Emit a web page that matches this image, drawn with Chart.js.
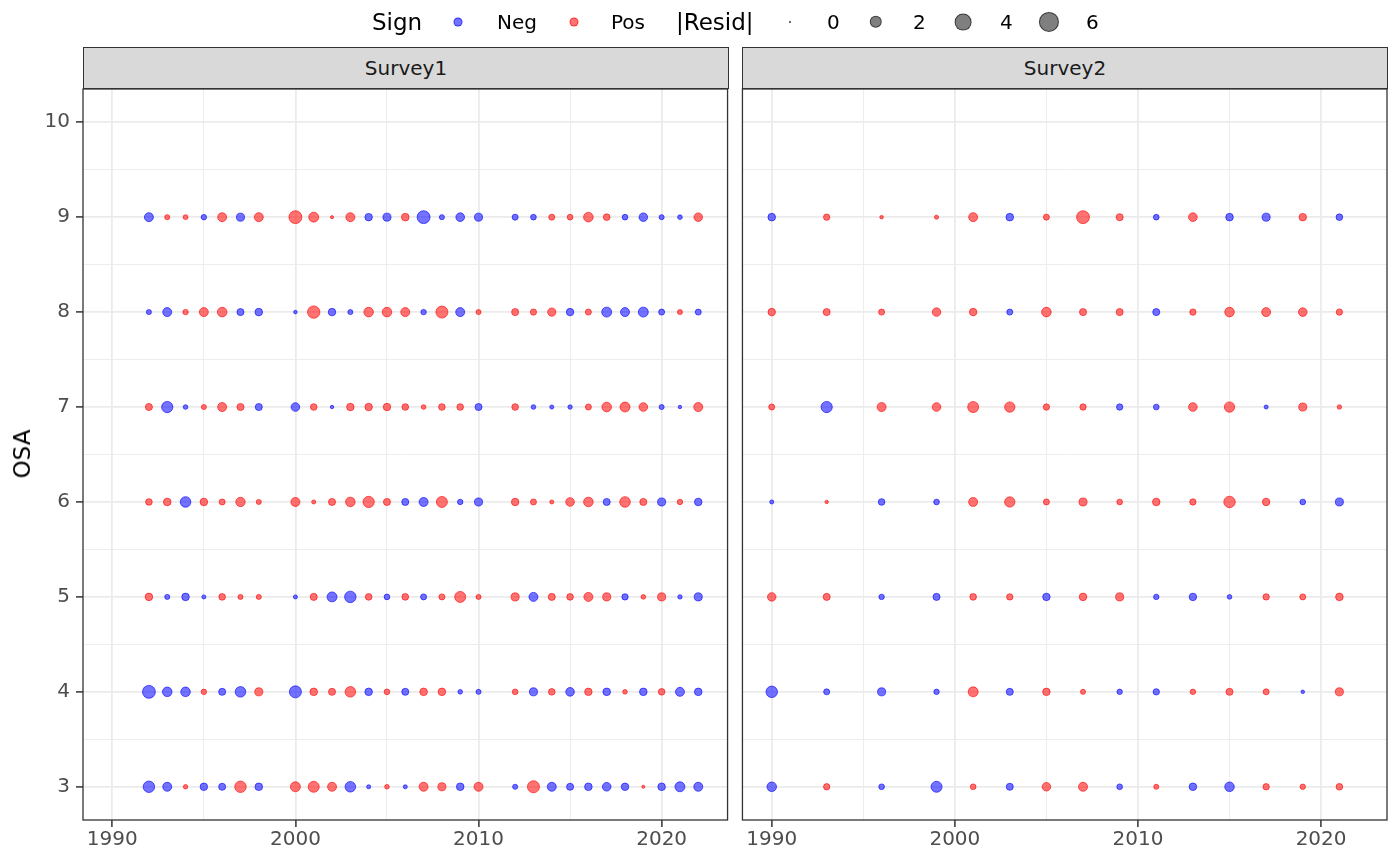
<!DOCTYPE html>
<html>
<head>
<meta charset="utf-8">
<script src="https://cdn.jsdelivr.net/npm/chart.js@4.4.0/dist/chart.umd.min.js"></script>
<style>
  body { margin: 0; background: #fff; font-family: "DejaVu Sans", sans-serif; }
  #wrap { position: relative; width: 1400px; height: 866px; overflow: hidden; }
  canvas { position: absolute; top: 0; }
  .strip { position: absolute; top: 47px; height: 42px; background: #d9d9d9; border: 1.3px solid #333;
           box-sizing: border-box; text-align: center; line-height: 40px; font-size: 20px; color: #1a1a1a; }
  .lg { position: absolute; top: 22px; transform: translateY(-50%); white-space: nowrap; color: #000; }
  .lgt { font-size: 23px; }
  .lgl { font-size: 20px; }
  .dot { position: absolute; top: 22px; border-radius: 50%; box-sizing: border-box; transform: translate(-50%, -50%); }
  #ytitle { position: absolute; left: 22px; top: 454px; transform: translate(-50%, -50%) rotate(-90deg);
            font-size: 23px; color: #000; white-space: nowrap; }
</style>
</head>
<body>
<div id="wrap">
  <canvas id="c1" width="735" height="866" style="left:0px;width:735px;height:866px"></canvas>
  <canvas id="c2" width="665" height="866" style="left:735px;width:665px;height:866px"></canvas>
  <div class="strip" style="left:83px;width:646px">Survey1</div>
  <div class="strip" style="left:742px;width:646px">Survey2</div>
  <div id="ytitle">OSA</div>
  <div class="lg lgt" style="left:372px">Sign</div>
  <div class="lg lgl" style="left:497px">Neg</div>
  <div class="lg lgl" style="left:611px">Pos</div>
  <div class="lg lgt" style="left:676px">|Resid|</div>
</div>
<script>
// ages on the y axis
var ages = [3, 4, 5, 6, 7, 8, 9];

// tick positions / labels
var xTicks = [1990, 1995, 2000, 2005, 2010, 2015, 2020];
var xLabels = [1990, 2000, 2010, 2020];
var yTicks = [3, 3.5, 4, 4.5, 5, 5.5, 6, 6.5, 7, 7.5, 8, 8.5, 9, 9.5, 10];
var yLabels = [3, 4, 5, 6, 7, 8, 9, 10];
var sizeBreaks = [0, 2, 4, 6];

// Survey1 residuals (negative = Neg, positive = Pos)
var s1Years = [1992, 1993, 1994, 1995, 1996, 1997, 1998, 2000, 2001, 2002, 2003, 2004, 2005, 2006, 2007,
               2008, 2009, 2010, 2012, 2013, 2014, 2015, 2016, 2017, 2018, 2019, 2020, 2021, 2022];
var s1Age3 = [-2.00, -1.16, 0.21, -0.76, -0.67, 2.00, -0.79, 1.46, 1.82, 1.16, -1.67, -0.17, 0.24, -0.17, 1.16,
              0.91, -0.79, 1.16, -0.30, 2.22, -1.16, -0.67, -0.79, -1.06, -0.76, 0.08, -0.79, -1.46, -1.16];
var s1Age4 = [-2.58, -1.34, -1.34, 0.36, -0.67, -1.67, 0.91, -2.22, 0.79, 0.67, 1.67, -0.79, 0.40, -0.67, 0.79,
              0.79, -0.24, -0.30, 0.40, -0.91, 0.58, -1.06, 0.76, -0.79, 0.24, -0.79, 0.58, -1.16, -0.79];
var s1Age5 = [0.79, -0.30, -0.79, -0.17, 0.58, 0.30, 0.30, -0.17, 0.67, -1.46, -2.00, 0.58, -0.40, 0.58, -0.46,
              0.46, 1.82, 0.30, 0.91, -1.16, 0.67, 0.58, 1.16, 0.91, -0.52, 0.24, 0.91, -0.21, -0.91];
var s1Age6 = [0.58, 0.79, -1.67, 0.79, 0.46, 1.28, 0.30, 1.16, 0.17, 0.67, 1.34, 1.92, 0.67, -0.67, -1.16,
              1.82, -0.36, -0.91, 0.76, 0.46, 0.17, 1.06, 1.34, -0.67, 1.67, 0.67, -0.91, 0.36, -0.79];
var s1Age7 = [0.67, -1.92, -0.24, 0.30, 1.16, 0.67, -0.67, -1.06, 0.58, -0.11, 0.76, 0.76, 0.76, 0.58, 0.24,
              0.58, 0.58, -0.67, 0.58, -0.24, -0.17, -0.21, 0.46, 1.34, 1.46, 1.06, -0.30, -0.11, 1.16];
var s1Age8 = [-0.30, -1.16, 0.36, 1.16, 1.34, -0.67, -0.79, -0.12, 2.37, -0.76, -0.30, 1.34, 1.34, 1.16, -0.36,
              2.22, -1.16, 0.30, 0.67, 0.49, 0.97, -0.76, 0.46, -1.46, -1.16, -1.46, -0.46, 0.30, -0.46];
var s1Age9 = [-1.16, 0.30, 0.27, -0.36, 1.16, -0.91, 1.16, 2.58, 1.46, 0.08, 1.16, -0.76, -0.91, 0.79, -2.58,
              -0.30, -1.06, -0.91, -0.46, -0.40, 0.46, 0.40, 1.34, 0.58, -0.40, -1.03, -0.30, -0.24, 1.03];

// Survey2 residuals
var s2Years = [1990, 1993, 1996, 1999, 2001, 2003, 2005, 2007, 2009, 2011, 2013, 2015, 2017, 2019, 2021];
var s2Age3 = [-1.34, 0.52, -0.40, -1.82, 0.40, -0.67, 1.03, 1.16, -0.40, 0.30, -0.79, -1.34, 0.52, 0.36, 0.58];
var s2Age4 = [-2.00, -0.46, -0.91, -0.36, 1.46, -0.67, 0.76, 0.30, -0.36, -0.52, 0.36, 0.67, 0.46, -0.12, 0.91];
var s2Age5 = [1.03, 0.67, -0.36, -0.67, 0.58, 0.52, -0.76, 0.79, 0.91, -0.36, -0.76, -0.24, 0.52, 0.46, 0.79];
var s2Age6 = [-0.17, 0.11, -0.58, -0.40, 1.16, 1.58, 0.46, 0.91, 0.40, 0.79, 0.52, 2.00, 0.76, -0.40, -0.91];
var s2Age7 = [0.46, -1.92, 1.16, 1.06, 1.82, 1.58, 0.52, 0.52, -0.52, -0.40, 1.06, 1.58, -0.17, 0.91, 0.21];
var s2Age8 = [0.76, 0.67, 0.46, 1.03, 0.76, -0.46, 1.34, 0.67, 0.67, -0.67, 0.52, 1.34, 1.16, 1.06, 0.52];
var s2Age9 = [-0.79, 0.52, 0.12, 0.17, 1.16, -0.79, 0.46, 2.58, 0.67, -0.40, 1.06, -0.79, -0.91, 0.76, -0.58];

var negFill = 'rgba(0,0,255,0.55)', negLine = 'rgba(0,0,255,0.62)';
var posFill = 'rgba(255,0,0,0.55)', posLine = 'rgba(255,0,0,0.62)';
var tickFont = { family: 'DejaVu Sans', size: 20 };

// outer radius in px for a |resid|
function radius(v) {
  return 1 + 3.7 * Math.sqrt(Math.abs(v));
}

// draws the dark box round each panel
var frame = {
  id: 'frame',
  afterDraw: function (chart) {
    var a = chart.chartArea, ctx = chart.ctx;
    ctx.save();
    ctx.strokeStyle = '#333333';
    ctx.lineWidth = 1.3;
    ctx.strokeRect(a.left, a.top, a.right - a.left, a.bottom - a.top);
    ctx.restore();
  }
};

function isMajor(list, ctx) {
  return ctx.tick && list.indexOf(ctx.tick.value) !== -1;
}

function panel(id, years, rows, showY, padLeft, padRight) {
  var pts = [];
  rows.forEach(function (row, i) {
    row.forEach(function (v, j) {
      pts.push({ x: years[j], y: ages[i], r: radius(v) - 0.5, v: v });
    });
  });

  return new Chart(document.getElementById(id), {
    type: 'bubble',
    data: {
      datasets: [{
        data: pts,
        backgroundColor: function (c) { return c.raw && c.raw.v < 0 ? negFill : posFill; },
        borderColor: function (c) { return c.raw && c.raw.v < 0 ? negLine : posLine; },
        borderWidth: 1
      }]
    },
    options: {
      responsive: false,
      animation: false,
      events: [],
      layout: { padding: { left: padLeft, right: padRight, top: 89, bottom: 0 } },
      plugins: { legend: { display: false }, tooltip: { enabled: false } },
      scales: {
        x: {
          type: 'linear', min: 1988.4, max: 2023.6,
          afterBuildTicks: function (s) { s.ticks = xTicks.map(function (v) { return { value: v }; }); },
          afterFit: function (s) { s.height = 46; },
          border: { display: false },
          grid: {
            color: '#ebebeb',
            lineWidth: function (c) { return isMajor(xLabels, c) ? 1.8 : 0.9; },
            tickColor: function (c) { return isMajor(xLabels, c) ? '#333333' : 'rgba(0,0,0,0)'; },
            tickWidth: 1.5,
            tickLength: 7
          },
          ticks: {
            autoSkip: false, maxRotation: 0, padding: 1,
            color: '#4d4d4d', font: tickFont,
            callback: function (v) { return xLabels.indexOf(v) !== -1 ? String(v) : ''; }
          }
        },
        y: {
          type: 'linear', min: 2.65, max: 10.35,
          afterBuildTicks: function (s) { s.ticks = yTicks.map(function (v) { return { value: v }; }); },
          afterFit: function (s) { s.width = showY ? 83 : 0; },
          border: { display: false },
          grid: {
            color: '#ebebeb',
            lineWidth: function (c) { return isMajor(yLabels, c) ? 1.8 : 0.9; },
            tickColor: function (c) { return isMajor(yLabels, c) ? '#333333' : 'rgba(0,0,0,0)'; },
            tickWidth: 1.5,
            drawTicks: showY,
            tickLength: 7
          },
          ticks: {
            display: showY, autoSkip: false, padding: 6,
            color: '#4d4d4d', font: tickFont,
            callback: function (v) { return yLabels.indexOf(v) !== -1 ? String(v) : ''; }
          }
        }
      }
    },
    plugins: [frame]
  });
}

panel('c1', s1Years, [s1Age3, s1Age4, s1Age5, s1Age6, s1Age7, s1Age8, s1Age9], true, 0, 7);
panel('c2', s2Years, [s2Age3, s2Age4, s2Age5, s2Age6, s2Age7, s2Age8, s2Age9], false, 7, 13);

// legend keys
var wrap = document.getElementById('wrap');
function addDot(cx, r, fill, line) {
  var d = document.createElement('div');
  d.className = 'dot';
  d.style.left = cx + 'px';
  d.style.width = (2 * r) + 'px';
  d.style.height = (2 * r) + 'px';
  d.style.background = fill;
  d.style.border = '1px solid ' + line;
  wrap.appendChild(d);
}
addDot(458, 4.5, negFill, negLine);
addDot(574, 4.5, posFill, posLine);

var sizeDotX = [790, 876, 963, 1049];
sizeBreaks.forEach(function (b, i) {
  addDot(sizeDotX[i], radius(b), 'rgba(0,0,0,0.5)', 'rgba(0,0,0,0.55)');
  var t = document.createElement('div');
  t.className = 'lg lgl';
  t.style.left = (sizeDotX[i] + 37) + 'px';
  t.textContent = String(b);
  wrap.appendChild(t);
});
</script>
</body>
</html>
